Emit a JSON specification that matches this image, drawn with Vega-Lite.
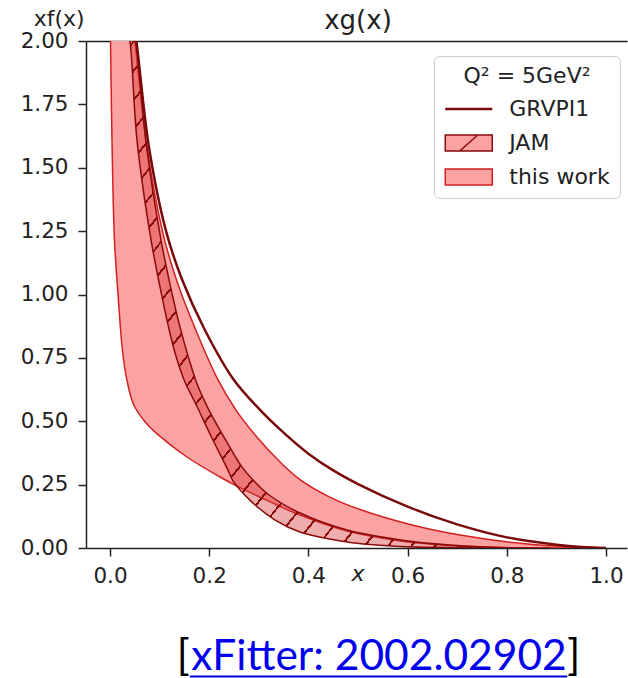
{
  "$schema": "https://vega.github.io/schema/vega-lite/v6.json",
  "width": 541,
  "height": 507,
  "autosize": {"type": "none"},
  "padding": {"left": 86, "top": 41, "right": 1, "bottom": 130},
  "background": "white",
  "config": {"view": {"stroke": null}},
  "datasets": {
    "curves": [
      {"s": "this work", "i": 0, "x": 0.0, "y": 2.083},
      {"s": "this work", "i": 1, "x": 0.001, "y": 2.0},
      {"s": "this work", "i": 2, "x": 0.004, "y": 1.609},
      {"s": "this work", "i": 3, "x": 0.009, "y": 1.215},
      {"s": "this work", "i": 4, "x": 0.017, "y": 0.978},
      {"s": "this work", "i": 5, "x": 0.025, "y": 0.781},
      {"s": "this work", "i": 6, "x": 0.034, "y": 0.663},
      {"s": "this work", "i": 7, "x": 0.048, "y": 0.564},
      {"s": "this work", "i": 8, "x": 0.071, "y": 0.497},
      {"s": "this work", "i": 9, "x": 0.095, "y": 0.45},
      {"s": "this work", "i": 10, "x": 0.155, "y": 0.359},
      {"s": "this work", "i": 11, "x": 0.222, "y": 0.28},
      {"s": "this work", "i": 12, "x": 0.248, "y": 0.252},
      {"s": "this work", "i": 13, "x": 0.302, "y": 0.201},
      {"s": "this work", "i": 14, "x": 0.383, "y": 0.13},
      {"s": "this work", "i": 15, "x": 0.478, "y": 0.067},
      {"s": "this work", "i": 16, "x": 0.585, "y": 0.028},
      {"s": "this work", "i": 17, "x": 0.685, "y": 0.01},
      {"s": "this work", "i": 18, "x": 0.786, "y": 0.002},
      {"s": "this work", "i": 19, "x": 0.887, "y": 0.0},
      {"s": "this work", "i": 20, "x": 1.0, "y": 0.0},
      {"s": "this work", "i": 21, "x": 0.907, "y": 0.007},
      {"s": "this work", "i": 22, "x": 0.806, "y": 0.023},
      {"s": "this work", "i": 23, "x": 0.706, "y": 0.051},
      {"s": "this work", "i": 24, "x": 0.605, "y": 0.093},
      {"s": "this work", "i": 25, "x": 0.504, "y": 0.152},
      {"s": "this work", "i": 26, "x": 0.444, "y": 0.2},
      {"s": "this work", "i": 27, "x": 0.383, "y": 0.27},
      {"s": "this work", "i": 28, "x": 0.343, "y": 0.339},
      {"s": "this work", "i": 29, "x": 0.296, "y": 0.438},
      {"s": "this work", "i": 30, "x": 0.254, "y": 0.544},
      {"s": "this work", "i": 31, "x": 0.216, "y": 0.67},
      {"s": "this work", "i": 32, "x": 0.175, "y": 0.85},
      {"s": "this work", "i": 33, "x": 0.137, "y": 1.04},
      {"s": "this work", "i": 34, "x": 0.107, "y": 1.24},
      {"s": "this work", "i": 35, "x": 0.0746, "y": 1.58},
      {"s": "this work", "i": 36, "x": 0.0504, "y": 2.0},
      {"s": "this work", "i": 37, "x": 0.0464, "y": 2.083},

      {"s": "JAM", "i": 0, "x": 0.0323, "y": 2.083},
      {"s": "JAM", "i": 1, "x": 0.0403, "y": 2.0},
      {"s": "JAM", "i": 2, "x": 0.0544, "y": 1.609},
      {"s": "JAM", "i": 3, "x": 0.0827, "y": 1.215},
      {"s": "JAM", "i": 4, "x": 0.1008, "y": 1.03},
      {"s": "JAM", "i": 5, "x": 0.117, "y": 0.88},
      {"s": "JAM", "i": 6, "x": 0.131, "y": 0.77},
      {"s": "JAM", "i": 7, "x": 0.149, "y": 0.665},
      {"s": "JAM", "i": 8, "x": 0.175, "y": 0.56},
      {"s": "JAM", "i": 9, "x": 0.204, "y": 0.44},
      {"s": "JAM", "i": 10, "x": 0.236, "y": 0.315},
      {"s": "JAM", "i": 11, "x": 0.248, "y": 0.265},
      {"s": "JAM", "i": 12, "x": 0.282, "y": 0.189},
      {"s": "JAM", "i": 13, "x": 0.333, "y": 0.11},
      {"s": "JAM", "i": 14, "x": 0.383, "y": 0.063},
      {"s": "JAM", "i": 15, "x": 0.478, "y": 0.024},
      {"s": "JAM", "i": 16, "x": 0.585, "y": 0.006},
      {"s": "JAM", "i": 17, "x": 0.685, "y": 0.002},
      {"s": "JAM", "i": 18, "x": 0.786, "y": 0.0},
      {"s": "JAM", "i": 19, "x": 0.887, "y": 0.0},
      {"s": "JAM", "i": 20, "x": 0.786, "y": 0.002},
      {"s": "JAM", "i": 21, "x": 0.685, "y": 0.012},
      {"s": "JAM", "i": 22, "x": 0.585, "y": 0.032},
      {"s": "JAM", "i": 23, "x": 0.478, "y": 0.071},
      {"s": "JAM", "i": 24, "x": 0.383, "y": 0.138},
      {"s": "JAM", "i": 25, "x": 0.32, "y": 0.21},
      {"s": "JAM", "i": 26, "x": 0.29, "y": 0.265},
      {"s": "JAM", "i": 27, "x": 0.266, "y": 0.32},
      {"s": "JAM", "i": 28, "x": 0.232, "y": 0.43},
      {"s": "JAM", "i": 29, "x": 0.198, "y": 0.55},
      {"s": "JAM", "i": 30, "x": 0.175, "y": 0.65},
      {"s": "JAM", "i": 31, "x": 0.157, "y": 0.76},
      {"s": "JAM", "i": 32, "x": 0.14, "y": 0.88},
      {"s": "JAM", "i": 33, "x": 0.121, "y": 1.04},
      {"s": "JAM", "i": 34, "x": 0.1028, "y": 1.215},
      {"s": "JAM", "i": 35, "x": 0.0726, "y": 1.6},
      {"s": "JAM", "i": 36, "x": 0.052, "y": 2.0},
      {"s": "JAM", "i": 37, "x": 0.0425, "y": 2.083},

      {"s": "GRVPI1", "i": 0, "x": 0.046, "y": 2.08},
      {"s": "GRVPI1", "i": 1, "x": 0.053, "y": 2.0},
      {"s": "GRVPI1", "i": 2, "x": 0.0786, "y": 1.58},
      {"s": "GRVPI1", "i": 3, "x": 0.113, "y": 1.25},
      {"s": "GRVPI1", "i": 4, "x": 0.145, "y": 1.06},
      {"s": "GRVPI1", "i": 5, "x": 0.19, "y": 0.865},
      {"s": "GRVPI1", "i": 6, "x": 0.248, "y": 0.668},
      {"s": "GRVPI1", "i": 7, "x": 0.3, "y": 0.55},
      {"s": "GRVPI1", "i": 8, "x": 0.35, "y": 0.455},
      {"s": "GRVPI1", "i": 9, "x": 0.4, "y": 0.372},
      {"s": "GRVPI1", "i": 10, "x": 0.45, "y": 0.306},
      {"s": "GRVPI1", "i": 11, "x": 0.5, "y": 0.252},
      {"s": "GRVPI1", "i": 12, "x": 0.6, "y": 0.163},
      {"s": "GRVPI1", "i": 13, "x": 0.7, "y": 0.093},
      {"s": "GRVPI1", "i": 14, "x": 0.8, "y": 0.042},
      {"s": "GRVPI1", "i": 15, "x": 0.9, "y": 0.013},
      {"s": "GRVPI1", "i": 16, "x": 0.95, "y": 0.004},
      {"s": "GRVPI1", "i": 17, "x": 1.0, "y": 0.0}
    ]
  },
  "layer": [
    {
      "data": {"name": "curves"},
      "transform": [{"filter": "datum.s === 'this work'"}],
      "mark": {"type": "line", "fill": "#fba3a3", "strokeWidth": 1.5, "clip": true, "interpolate": "catmull-rom"},
      "encoding": {
        "x": {
          "field": "x", "type": "quantitative",
          "scale": {"domain": [-0.0484, 1.0423], "nice": false, "zero": false},
          "axis": {
            "orient": "bottom", "values": [0, 0.2, 0.4, 0.6, 0.8, 1.0], "format": ".1f",
            "labelFont": "DejaVu Sans", "labelFontSize": 21.5, "labelColor": "#222", "labelPadding": 9,
            "labelFlush": false, "labelOverlap": false,
            "tickSize": 8, "tickWidth": 1.5, "tickColor": "#222",
            "domainColor": "#222", "domainWidth": 1.5, "grid": false,
            "title": "x", "titleFont": "DejaVu Sans", "titleFontSize": 22, "titleFontStyle": "italic",
            "titleFontWeight": "normal", "titleColor": "#222", "titleX": 271.5, "titleY": 32,
            "titleAlign": "center", "titleBaseline": "alphabetic"
          }
        },
        "y": {
          "field": "y", "type": "quantitative",
          "scale": {"domain": [0, 2], "nice": false, "zero": false},
          "axis": {
            "values": [0, 0.25, 0.5, 0.75, 1.0, 1.25, 1.5, 1.75, 2.0], "format": ".2f",
            "labelFont": "DejaVu Sans", "labelFontSize": 21.5, "labelColor": "#222", "labelPadding": 10,
            "labelFlush": false, "labelOverlap": false,
            "tickSize": 8, "tickWidth": 1.5, "tickColor": "#222",
            "domainColor": "#222", "domainWidth": 1.5, "grid": false,
            "title": "xf(x)", "titleFont": "DejaVu Sans", "titleFontSize": 22, "titleFontWeight": "normal",
            "titleColor": "#222", "titleAngle": 0, "titleX": -27.3, "titleY": -16,
            "titleAlign": "center", "titleBaseline": "alphabetic"
          }
        },
        "order": {"field": "i", "type": "quantitative"},
        "stroke": {
          "field": "s", "type": "nominal",
          "scale": {"domain": ["GRVPI1", "JAM", "this work"], "range": ["#7a0a0a", "#8b0a0a", "#d42020"]},
          "legend": {
            "orient": "none", "legendX": 348, "legendY": 15,
            "title": "Q² = 5GeV²",
            "titleFont": "DejaVu Sans", "titleFontSize": 22, "titleFontWeight": "normal", "titleColor": "#222",
            "titleAnchor": "middle", "titlePadding": 10,
            "labelFont": "DejaVu Sans", "labelFontSize": 22, "labelColor": "#222", "labelOffset": 29.5,
            "symbolSize": 400, "symbolOffset": 13.75,
            "symbolType": {"expr": "datum.value === 'GRVPI1' ? 'M-2.35,0H2.35' : datum.value === 'JAM' ? 'M-2.35,-0.8H2.35V0.8H-2.35Z M-0.9,0.8L0.9,-0.8' : 'M-2.35,-0.8H2.35V0.8H-2.35Z'"},
            "symbolFillColor": {"expr": "datum.value === 'GRVPI1' ? 'transparent' : datum.value === 'JAM' ? '#eb9c9c' : '#fba3a3'"},
            "symbolStrokeWidth": {"expr": "datum.value === 'GRVPI1' ? 2.5 : 1.5"},
            "symbolOpacity": 1,
            "padding": 10, "rowPadding": 12, "strokeColor": "#cccccc", "fillColor": "white", "cornerRadius": 5
          }
        }
      }
    },
    {
      "data": {"name": "curves"},
      "transform": [{"filter": "datum.s === 'JAM'"}],
      "mark": {
        "type": "line", "strokeWidth": 1.5, "clip": true, "interpolate": "catmull-rom",
        "fill": {
          "gradient": "linear", "x1": 0, "y1": 0, "x2": 1, "y2": 1,
          "stops": [
            {"offset": 0.0000, "color": "#8b0a0a"}, {"offset": 0.0030, "color": "#8b0a0a"}, {"offset": 0.0030, "color": "rgba(214,50,50,0.4)"}, {"offset": 0.0278, "color": "rgba(214,50,50,0.4)"},
            {"offset": 0.0278, "color": "#8b0a0a"}, {"offset": 0.0308, "color": "#8b0a0a"}, {"offset": 0.0308, "color": "rgba(214,50,50,0.4)"}, {"offset": 0.0556, "color": "rgba(214,50,50,0.4)"},
            {"offset": 0.0556, "color": "#8b0a0a"}, {"offset": 0.0586, "color": "#8b0a0a"}, {"offset": 0.0586, "color": "rgba(214,50,50,0.4)"}, {"offset": 0.0833, "color": "rgba(214,50,50,0.4)"},
            {"offset": 0.0833, "color": "#8b0a0a"}, {"offset": 0.0863, "color": "#8b0a0a"}, {"offset": 0.0863, "color": "rgba(214,50,50,0.4)"}, {"offset": 0.1111, "color": "rgba(214,50,50,0.4)"},
            {"offset": 0.1111, "color": "#8b0a0a"}, {"offset": 0.1141, "color": "#8b0a0a"}, {"offset": 0.1141, "color": "rgba(214,50,50,0.4)"}, {"offset": 0.1389, "color": "rgba(214,50,50,0.4)"},
            {"offset": 0.1389, "color": "#8b0a0a"}, {"offset": 0.1419, "color": "#8b0a0a"}, {"offset": 0.1419, "color": "rgba(214,50,50,0.4)"}, {"offset": 0.1667, "color": "rgba(214,50,50,0.4)"},
            {"offset": 0.1667, "color": "#8b0a0a"}, {"offset": 0.1697, "color": "#8b0a0a"}, {"offset": 0.1697, "color": "rgba(214,50,50,0.4)"}, {"offset": 0.1944, "color": "rgba(214,50,50,0.4)"},
            {"offset": 0.1944, "color": "#8b0a0a"}, {"offset": 0.1974, "color": "#8b0a0a"}, {"offset": 0.1974, "color": "rgba(214,50,50,0.4)"}, {"offset": 0.2222, "color": "rgba(214,50,50,0.4)"},
            {"offset": 0.2222, "color": "#8b0a0a"}, {"offset": 0.2252, "color": "#8b0a0a"}, {"offset": 0.2252, "color": "rgba(214,50,50,0.4)"}, {"offset": 0.2500, "color": "rgba(214,50,50,0.4)"},
            {"offset": 0.2500, "color": "#8b0a0a"}, {"offset": 0.2530, "color": "#8b0a0a"}, {"offset": 0.2530, "color": "rgba(214,50,50,0.4)"}, {"offset": 0.2778, "color": "rgba(214,50,50,0.4)"},
            {"offset": 0.2778, "color": "#8b0a0a"}, {"offset": 0.2808, "color": "#8b0a0a"}, {"offset": 0.2808, "color": "rgba(214,50,50,0.4)"}, {"offset": 0.3056, "color": "rgba(214,50,50,0.4)"},
            {"offset": 0.3056, "color": "#8b0a0a"}, {"offset": 0.3086, "color": "#8b0a0a"}, {"offset": 0.3086, "color": "rgba(214,50,50,0.4)"}, {"offset": 0.3333, "color": "rgba(214,50,50,0.4)"},
            {"offset": 0.3333, "color": "#8b0a0a"}, {"offset": 0.3363, "color": "#8b0a0a"}, {"offset": 0.3363, "color": "rgba(214,50,50,0.4)"}, {"offset": 0.3611, "color": "rgba(214,50,50,0.4)"},
            {"offset": 0.3611, "color": "#8b0a0a"}, {"offset": 0.3641, "color": "#8b0a0a"}, {"offset": 0.3641, "color": "rgba(214,50,50,0.4)"}, {"offset": 0.3889, "color": "rgba(214,50,50,0.4)"},
            {"offset": 0.3889, "color": "#8b0a0a"}, {"offset": 0.3919, "color": "#8b0a0a"}, {"offset": 0.3919, "color": "rgba(214,50,50,0.4)"}, {"offset": 0.4167, "color": "rgba(214,50,50,0.4)"},
            {"offset": 0.4167, "color": "#8b0a0a"}, {"offset": 0.4197, "color": "#8b0a0a"}, {"offset": 0.4197, "color": "rgba(214,50,50,0.4)"}, {"offset": 0.4444, "color": "rgba(214,50,50,0.4)"},
            {"offset": 0.4444, "color": "#8b0a0a"}, {"offset": 0.4474, "color": "#8b0a0a"}, {"offset": 0.4474, "color": "rgba(214,50,50,0.4)"}, {"offset": 0.4722, "color": "rgba(214,50,50,0.4)"},
            {"offset": 0.4722, "color": "#8b0a0a"}, {"offset": 0.4752, "color": "#8b0a0a"}, {"offset": 0.4752, "color": "rgba(214,50,50,0.4)"}, {"offset": 0.5000, "color": "rgba(214,50,50,0.4)"},
            {"offset": 0.5000, "color": "#8b0a0a"}, {"offset": 0.5030, "color": "#8b0a0a"}, {"offset": 0.5030, "color": "rgba(214,50,50,0.4)"}, {"offset": 0.5278, "color": "rgba(214,50,50,0.4)"},
            {"offset": 0.5278, "color": "#8b0a0a"}, {"offset": 0.5308, "color": "#8b0a0a"}, {"offset": 0.5308, "color": "rgba(214,50,50,0.4)"}, {"offset": 0.5556, "color": "rgba(214,50,50,0.4)"},
            {"offset": 0.5556, "color": "#8b0a0a"}, {"offset": 0.5586, "color": "#8b0a0a"}, {"offset": 0.5586, "color": "rgba(214,50,50,0.4)"}, {"offset": 0.5833, "color": "rgba(214,50,50,0.4)"},
            {"offset": 0.5833, "color": "#8b0a0a"}, {"offset": 0.5863, "color": "#8b0a0a"}, {"offset": 0.5863, "color": "rgba(214,50,50,0.4)"}, {"offset": 0.6111, "color": "rgba(214,50,50,0.4)"},
            {"offset": 0.6111, "color": "#8b0a0a"}, {"offset": 0.6141, "color": "#8b0a0a"}, {"offset": 0.6141, "color": "rgba(214,50,50,0.4)"}, {"offset": 0.6389, "color": "rgba(214,50,50,0.4)"},
            {"offset": 0.6389, "color": "#8b0a0a"}, {"offset": 0.6419, "color": "#8b0a0a"}, {"offset": 0.6419, "color": "rgba(214,50,50,0.4)"}, {"offset": 0.6667, "color": "rgba(214,50,50,0.4)"},
            {"offset": 0.6667, "color": "#8b0a0a"}, {"offset": 0.6697, "color": "#8b0a0a"}, {"offset": 0.6697, "color": "rgba(214,50,50,0.4)"}, {"offset": 0.6944, "color": "rgba(214,50,50,0.4)"},
            {"offset": 0.6944, "color": "#8b0a0a"}, {"offset": 0.6974, "color": "#8b0a0a"}, {"offset": 0.6974, "color": "rgba(214,50,50,0.4)"}, {"offset": 0.7222, "color": "rgba(214,50,50,0.4)"},
            {"offset": 0.7222, "color": "#8b0a0a"}, {"offset": 0.7252, "color": "#8b0a0a"}, {"offset": 0.7252, "color": "rgba(214,50,50,0.4)"}, {"offset": 0.7500, "color": "rgba(214,50,50,0.4)"},
            {"offset": 0.7500, "color": "#8b0a0a"}, {"offset": 0.7530, "color": "#8b0a0a"}, {"offset": 0.7530, "color": "rgba(214,50,50,0.4)"}, {"offset": 0.7778, "color": "rgba(214,50,50,0.4)"},
            {"offset": 0.7778, "color": "#8b0a0a"}, {"offset": 0.7808, "color": "#8b0a0a"}, {"offset": 0.7808, "color": "rgba(214,50,50,0.4)"}, {"offset": 0.8056, "color": "rgba(214,50,50,0.4)"},
            {"offset": 0.8056, "color": "#8b0a0a"}, {"offset": 0.8086, "color": "#8b0a0a"}, {"offset": 0.8086, "color": "rgba(214,50,50,0.4)"}, {"offset": 0.8333, "color": "rgba(214,50,50,0.4)"},
            {"offset": 0.8333, "color": "#8b0a0a"}, {"offset": 0.8363, "color": "#8b0a0a"}, {"offset": 0.8363, "color": "rgba(214,50,50,0.4)"}, {"offset": 0.8611, "color": "rgba(214,50,50,0.4)"},
            {"offset": 0.8611, "color": "#8b0a0a"}, {"offset": 0.8641, "color": "#8b0a0a"}, {"offset": 0.8641, "color": "rgba(214,50,50,0.4)"}, {"offset": 0.8889, "color": "rgba(214,50,50,0.4)"},
            {"offset": 0.8889, "color": "#8b0a0a"}, {"offset": 0.8919, "color": "#8b0a0a"}, {"offset": 0.8919, "color": "rgba(214,50,50,0.4)"}, {"offset": 0.9167, "color": "rgba(214,50,50,0.4)"},
            {"offset": 0.9167, "color": "#8b0a0a"}, {"offset": 0.9197, "color": "#8b0a0a"}, {"offset": 0.9197, "color": "rgba(214,50,50,0.4)"}, {"offset": 0.9444, "color": "rgba(214,50,50,0.4)"},
            {"offset": 0.9444, "color": "#8b0a0a"}, {"offset": 0.9474, "color": "#8b0a0a"}, {"offset": 0.9474, "color": "rgba(214,50,50,0.4)"}, {"offset": 0.9722, "color": "rgba(214,50,50,0.4)"},
            {"offset": 0.9722, "color": "#8b0a0a"}, {"offset": 0.9752, "color": "#8b0a0a"}, {"offset": 0.9752, "color": "rgba(214,50,50,0.4)"}, {"offset": 1.0, "color": "rgba(214,50,50,0.4)"}
          ]
        }
      },
      "encoding": {
        "x": {"field": "x", "type": "quantitative", "axis": null},
        "y": {"field": "y", "type": "quantitative", "axis": null},
        "order": {"field": "i", "type": "quantitative"},
        "stroke": {"field": "s", "type": "nominal"}
      }
    },
    {
      "data": {"name": "curves"},
      "transform": [{"filter": "datum.s === 'GRVPI1'"}],
      "mark": {"type": "line", "strokeWidth": 2.5, "clip": true, "interpolate": "catmull-rom"},
      "encoding": {
        "x": {
          "field": "x", "type": "quantitative",
          "axis": {
            "orient": "top", "ticks": false, "labels": false, "grid": false,
            "domainColor": "#222", "domainWidth": 1.5,
            "title": "xg(x)", "titleFont": "DejaVu Sans", "titleFontSize": 26, "titleFontWeight": "normal",
            "titleColor": "#222", "titleX": 271.5, "titleY": -13, "titleAlign": "center", "titleBaseline": "alphabetic"
          }
        },
        "y": {"field": "y", "type": "quantitative", "axis": null},
        "order": {"field": "i", "type": "quantitative"},
        "stroke": {"field": "s", "type": "nominal"}
      }
    },
    {
      "data": {"values": [{}]},
      "mark": {"type": "text", "text": "[", "font": "Lato", "fontSize": 42.5, "align": "right", "baseline": "alphabetic", "color": "black"},
      "encoding": {
        "x": {"datum": 0.161, "type": "quantitative", "axis": null},
        "y": {"datum": -0.48, "type": "quantitative", "axis": null}
      }
    },
    {
      "data": {"values": [{}]},
      "mark": {"type": "text", "text": "xFitter: 2002.02902", "font": "Lato", "fontSize": 42.5, "align": "center", "baseline": "alphabetic", "color": "#0000ee"},
      "encoding": {
        "x": {"datum": 0.5423, "type": "quantitative", "axis": null},
        "y": {"datum": -0.48, "type": "quantitative", "axis": null}
      }
    },
    {
      "data": {"values": [{}]},
      "mark": {"type": "text", "text": "]", "font": "Lato", "fontSize": 42.5, "align": "left", "baseline": "alphabetic", "color": "black"},
      "encoding": {
        "x": {"datum": 0.922, "type": "quantitative", "axis": null},
        "y": {"datum": -0.48, "type": "quantitative", "axis": null}
      }
    },
    {
      "data": {"values": [{}]},
      "mark": {"type": "rule", "color": "#0000ee", "strokeWidth": 2},
      "encoding": {
        "x": {"datum": 0.161, "type": "quantitative", "axis": null},
        "x2": {"datum": 0.922},
        "y": {"datum": -0.507, "type": "quantitative", "axis": null}
      }
    }
  ],
  "resolve": {"axis": {"x": "independent", "y": "independent"}}
}
